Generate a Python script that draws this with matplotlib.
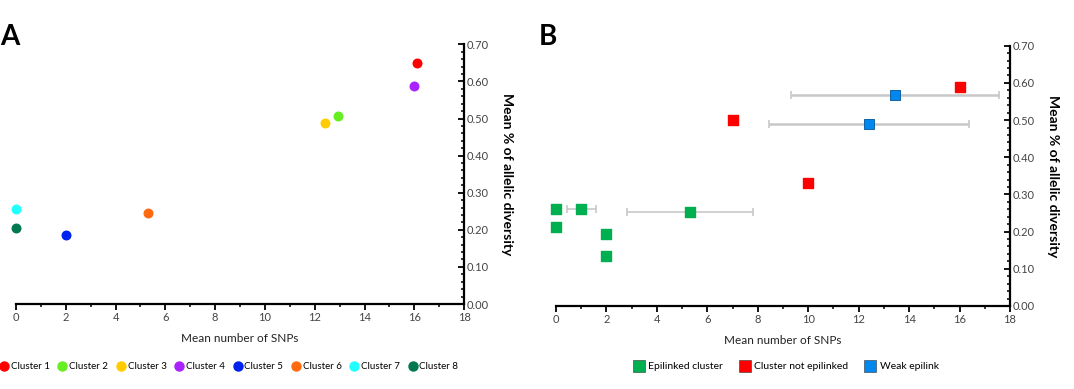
import matplotlib
matplotlib.use("Agg")
import matplotlib.pyplot as plt
from matplotlib.ticker import MultipleLocator, FormatStrFormatter
from matplotlib.lines import Line2D

plt.rcParams['font.family'] = ['Lato', 'DejaVu Sans']

# Panel A: one point per cluster
cluster_names = ["Cluster 1", "Cluster 2", "Cluster 3", "Cluster 4",
                 "Cluster 5", "Cluster 6", "Cluster 7", "Cluster 8"]
cluster_snps = [16.1, 12.95, 12.4, 15.98, 2.0, 5.32, 0.0, 0.0]
cluster_div = [0.650, 0.507, 0.488, 0.589, 0.185, 0.246, 0.255, 0.204]
cluster_colors = ["#FF0000", "#66EE22", "#FFCC00", "#AA22FF",
                  "#0022EE", "#FF6A10", "#22FFFF", "#00794F"]

# Panel B: clusters grouped by epidemiological link
group_names = ["Epilinked cluster", "Cluster not epilinked", "Weak epilink"]
group_colors = ["#00B050", "#FF0000", "#0088EE"]
epi_snps = [0.0, 1.0, 5.33, 0.0, 2.0, 2.0]
epi_div = [0.262, 0.262, 0.252, 0.213, 0.193, 0.134]
epi_err = [0.0, 0.58, 2.5, 0.0, 0.0, 0.0]
notepi_snps = [16.0, 7.0, 10.0]
notepi_div = [0.590, 0.501, 0.332]
weak_snps = [13.43, 12.41]
weak_div = [0.568, 0.490]
weak_err = [4.12, 3.97]

fig = plt.figure(figsize=(10.74, 3.89), dpi=100)
axA = fig.add_axes([0.0149, 0.2185, 0.4172, 0.6675])
axB = fig.add_axes([0.5177, 0.2134, 0.4227, 0.6691])


def style_axis(ax):
    ax.set_xlim(0, 18)
    ax.set_ylim(0, 0.70)
    for side in ("top", "left"):
        ax.spines[side].set_visible(False)
    for side in ("bottom", "right"):
        ax.spines[side].set_linewidth(1.6)
        ax.spines[side].set_color("black")
    ax.yaxis.tick_right()
    ax.yaxis.set_label_position("right")
    ax.xaxis.set_major_locator(MultipleLocator(2))
    ax.xaxis.set_minor_locator(MultipleLocator(1))
    ax.yaxis.set_major_locator(MultipleLocator(0.1))
    ax.yaxis.set_minor_locator(MultipleLocator(0.02))
    ax.yaxis.set_major_formatter(FormatStrFormatter("%.2f"))
    ax.tick_params(axis="x", which="major", direction="out", length=4, width=1.3,
                   labelsize=8, labelcolor="#444444", pad=2)
    ax.tick_params(axis="x", which="minor", direction="out", length=2.5, width=1.1)
    ax.tick_params(axis="y", which="major", direction="in", length=4, width=1.3,
                   labelsize=8, labelcolor="#444444", pad=2)
    ax.tick_params(axis="y", which="minor", direction="in", length=2, width=1.1)
    ax.set_xlabel("Mean number of SNPs", fontsize=8.5, color="#222222", labelpad=7)
    ax.set_ylabel("Mean % of allelic diversity", fontsize=10, fontweight="bold",
                  rotation=-90, labelpad=17)
    for s in ax.spines.values():
        s.set_clip_on(False)


# Panel A
for x, y, c in zip(cluster_snps, cluster_div, cluster_colors):
    axA.scatter(x, y, s=38, color=c, zorder=3, clip_on=False)
style_axis(axA)
handlesA = [Line2D([], [], marker="o", linestyle="none", markersize=6.5,
                   markerfacecolor=c, markeredgecolor=c) for c in cluster_colors]
fig.legend(handlesA, cluster_names, loc="center", bbox_to_anchor=(0.213, 0.057),
           ncol=8, frameon=False, fontsize=7, handletextpad=0.2,
           columnspacing=0.8, handlelength=1.0, borderpad=0.1)
fig.text(0.0, 0.905, "A", fontsize=20, fontweight="bold", va="center")

# Panel B
axB.errorbar(epi_snps, epi_div, xerr=epi_err, fmt="none", ecolor="#C8C8C8",
             elinewidth=1.2, capsize=3, capthick=1.2, zorder=2)
axB.errorbar(weak_snps, weak_div, xerr=weak_err, fmt="none", ecolor="#C8C8C8",
             elinewidth=1.8, capsize=3, capthick=1.2, zorder=2)
axB.scatter(epi_snps, epi_div, marker="s", s=55, color=group_colors[0], zorder=3, clip_on=False)
axB.scatter(notepi_snps, notepi_div, marker="s", s=55, color=group_colors[1], zorder=3, clip_on=False)
axB.scatter(weak_snps, weak_div, marker="s", s=55, color=group_colors[2],
            edgecolor="#005599", linewidth=0.6, zorder=3, clip_on=False)
style_axis(axB)
handlesB = [Line2D([], [], marker="s", linestyle="none", markersize=8,
                   markerfacecolor=c, markeredgecolor="#333333", markeredgewidth=0.4)
            for c in group_colors]
fig.legend(handlesB, group_names, loc="center", bbox_to_anchor=(0.732, 0.057),
           ncol=3, frameon=False, fontsize=7.5, handletextpad=0.4,
           columnspacing=1.6, handlelength=1.0)
fig.text(0.502, 0.905, "B", fontsize=20, fontweight="bold", va="center")

fig.savefig("out.png", dpi=100, facecolor="white")
